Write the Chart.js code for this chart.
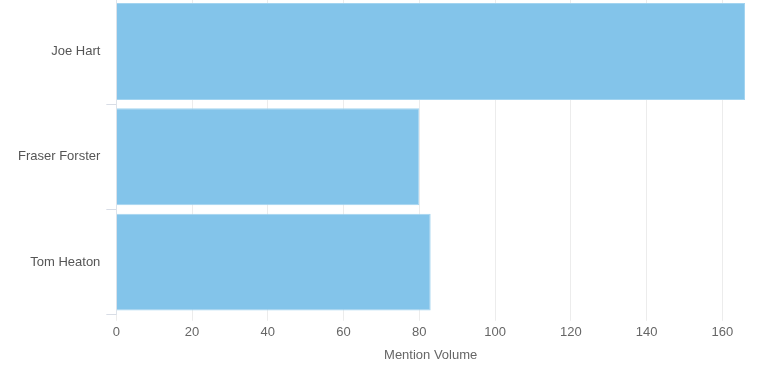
<!DOCTYPE html>
<html>
<head>
<meta charset="utf-8">
<script src="https://cdn.jsdelivr.net/npm/chart.js@4"></script>
<style>
  html, body { margin: 0; padding: 0; background: #fff; overflow: hidden; }
  #wrap { width: 765px; height: 388px; margin-top: -15px; }
</style>
</head>
<body>
<div id="wrap"><canvas id="chart"></canvas></div>
<script>
// Mention volume per goalkeeper
const players = ['Joe Hart', 'Fraser Forster', 'Tom Heaton'];
const mentions = [166, 80, 83];
const xTicks = [0, 20, 40, 60, 80, 100, 120, 140, 160];

const ctx = document.getElementById('chart').getContext('2d');

new Chart(ctx, {
  type: 'bar',
  data: {
    labels: players,
    datasets: [{
      label: 'Mention Volume',
      data: mentions,
      backgroundColor: '#83c4ea',
      borderColor: '#a3d4f0',
      borderWidth: 1,
      barPercentage: 0.92,
      categoryPercentage: 1
    }]
  },
  options: {
    indexAxis: 'y',
    responsive: true,
    maintainAspectRatio: false,
    animation: false,
    layout: { padding: { left: 12, right: 20, top: 0, bottom: 10 } },
    plugins: { legend: { display: false }, tooltip: { enabled: false } },
    scales: {
      x: {
        min: 0,
        max: 166,
        afterBuildTicks: axis => {
          axis.ticks = xTicks.map(v => ({ value: v }));
        },
        ticks: {
          color: '#666',
          font: { family: 'Liberation Sans', size: 13 },
          padding: 4
        },
        grid: { color: '#ececec', tickLength: 6, drawTicks: true },
        border: { display: false },
        title: {
          display: true,
          text: 'Mention Volume',
          color: '#666',
          font: { family: 'Liberation Sans', size: 13 },
          padding: { top: 3, bottom: 0 }
        }
      },
      y: {
        ticks: {
          color: '#555',
          font: { family: 'Liberation Sans', size: 13 },
          padding: 6
        },
        grid: { drawOnChartArea: false, color: '#d8dde6', tickLength: 10 },
        border: { display: true, color: '#dde3ea' }
      }
    }
  }
});
</script>
</body>
</html>
